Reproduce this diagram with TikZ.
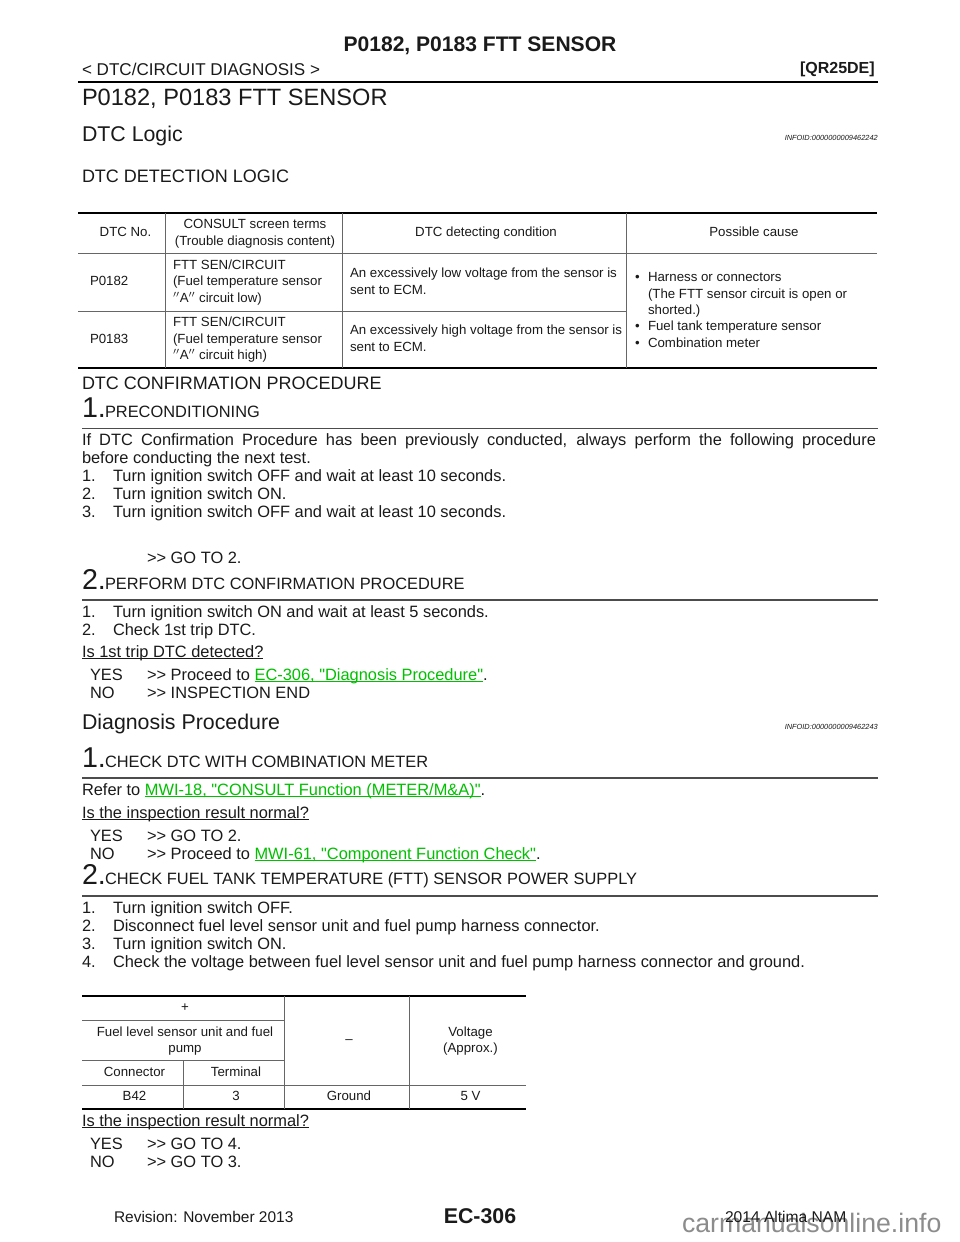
\documentclass[tikz,border=0pt]{standalone}
\usepackage{fontspec}
\setmainfont{Liberation Sans}[Ligatures=TeXOff]
\newcommand{\fs}[1]{\fontsize{#1}{#1}\selectfont}
\newsavebox{\ulbox}
\newcommand{\ulx}[1]{\sbox{\ulbox}{#1}\usebox{\ulbox}\llap{\rule[-1.6pt]{\wd\ulbox}{.7pt}}}
\definecolor{linkgreen}{HTML}{00C000}
\definecolor{wmgrey}{HTML}{8C8C8C}
\definecolor{textk}{HTML}{1A1A1A}
\tikzset{
 bl/.style={anchor=base west,inner sep=0pt,outer sep=0pt,text=textk},
 body/.style={bl,font=\fs{12.3}},
 bignum/.style={bl,font=\fs{21.5}},
 sect/.style={bl,font=\fs{12.3}},
 cell/.style={anchor=base,inner sep=0pt,outer sep=0pt,text=textk,font=\fs{9.95},align=center},
 cellw/.style={bl,font=\fs{9.95}},
 infoid/.style={anchor=base east,inner sep=0pt,font=\fs{5.55}\itshape,text=textk},
 heavy/.style={line width=1.5pt,black},
 thinrule/.style={line width=1pt,black!70},
 gridl/.style={line width=.6pt,black!60},
}
\begin{document}
\begin{tikzpicture}[x=.75pt,y=-.75pt]
\useasboundingbox (0,0) rectangle (960,1242);
\fill[white] (0,0) rectangle (960,1242);
% header
\node[anchor=base,inner sep=0pt,font=\fs{15.8}\bfseries,text=textk] (htitle) at (480,51) {P0182, P0183 FTT SENSOR};
\node[bl,font=\fs{12.8}] (hleft) at (82,75) {< DTC/CIRCUIT DIAGNOSIS >};
\node[anchor=base east,inner sep=0pt,font=\fs{12}\bfseries,text=textk] (hright) at (875,73) {[QR25DE]};
\draw[line width=2pt] (78,82) -- (878,82);
\node[bl,font=\fs{17.7}] (title) at (82,105) {P0182, P0183 FTT SENSOR};
\node[bl,font=\fs{16}] (h2a) at (82,141) {DTC Logic};
\node[infoid] (info1) at (878,140) {INFOID:0000000009462242};
\node[bl,font=\fs{13.5}] (h3a) at (82,182) {DTC DETECTION LOGIC};
% table 1
\draw[heavy] (78,213) -- (877,213);
\draw[heavy] (78,368) -- (877,368);
\draw[gridl] (78,253) -- (877,253);
\draw[gridl] (78,311) -- (626,311);
\foreach \x in {165,342,626} \draw[gridl] (\x,213) -- (\x,368);
\node[cell] (c11) at (125.5,236) {DTC No.};
\node[cell] (c12) at (255,228) {CONSULT screen terms};
\node[cell] (c12b) at (255,245) {(Trouble diagnosis content)};
\node[cell] (c13) at (486,236) {DTC detecting condition};
\node[cell] (c14) at (754,236) {Possible cause};
\node[cellw] (r1a) at (90,285) {P0182};
\node[cellw] (r1b1) at (173,269) {FTT SEN/CIRCUIT};
\node[cellw] (r1b2) at (173,285) {(Fuel temperature sensor};
\node[cellw] (r1b3) at (173,302) {$^{\prime\prime}$A$^{\prime\prime}$ circuit low)};
\node[cellw] (r1c1) at (350,277) {An excessively low voltage from the sensor is};
\node[cellw] (r1c2) at (350,294) {sent to ECM.};
\node[cellw] (r2a) at (90,343) {P0183};
\node[cellw] (r2b1) at (173,326) {FTT SEN/CIRCUIT};
\node[cellw] (r2b2) at (173,343) {(Fuel temperature sensor};
\node[cellw] (r2b3) at (173,359) {$^{\prime\prime}$A$^{\prime\prime}$ circuit high)};
\node[cellw] (r2c1) at (350,334) {An excessively high voltage from the sensor is};
\node[cellw] (r2c2) at (350,351) {sent to ECM.};
\node[cellw] (b1) at (635,281) {•};
\node[cellw] (p1) at (648,281) {Harness or connectors};
\node[cellw] (p2) at (648,298) {(The FTT sensor circuit is open or};
\node[cellw] (p3) at (648,314) {shorted.)};
\node[cellw] (b2) at (635,330) {•};
\node[cellw] (p4) at (648,330) {Fuel tank temperature sensor};
\node[cellw] (b3) at (635,347) {•};
\node[cellw] (p5) at (648,347) {Combination meter};
% confirmation
\node[bl,font=\fs{13.5}] (h3b) at (82,389) {DTC CONFIRMATION PROCEDURE};
\node[bignum] (n1) at (82,417) {1.};
\node[sect] (s1) at (105,417) {PRECONDITIONING};
\draw[thinrule] (82,428.5) -- (878,428.5);
\node[body] (para1) at (82,445) {\makebox[595.5pt][s]{If DTC Confirmation Procedure has been previously conducted, always perform the following procedure}};
\node[body] (para2) at (82,463) {before conducting the next test.};
\node[body] (l1a) at (82,481) {1.};
\node[body] (l1b) at (113,481) {Turn ignition switch OFF and wait at least 10 seconds.};
\node[body] (l2a) at (82,499) {2.};
\node[body] (l2b) at (113,499) {Turn ignition switch ON.};
\node[body] (l3a) at (82,517) {3.};
\node[body] (l3b) at (113,517) {Turn ignition switch OFF and wait at least 10 seconds.};
\node[body] (go2) at (147,563) {>> GO TO 2.};
\node[bignum] (n2) at (82,589) {2.};
\node[sect] (s2) at (105,589) {PERFORM DTC CONFIRMATION PROCEDURE};
\draw[thinrule] (82,600) -- (878,600);
\node[body] (m1a) at (82,617) {1.};
\node[body] (m1b) at (113,617) {Turn ignition switch ON and wait at least 5 seconds.};
\node[body] (m2a) at (82,635) {2.};
\node[body] (m2b) at (113,635) {Check 1st trip DTC.};
\node[body] (q1) at (82,657) {\ulx{Is 1st trip DTC detected?}};
\node[body] (y1) at (90,680) {YES};
\node[body] (y1b) at (147,680) {>> Proceed to \textcolor{linkgreen}{\ulx{EC-306, "Diagnosis Procedure"}}.};
\node[body] (n1x) at (90,698) {NO};
\node[body] (n1b) at (147,698) {>> INSPECTION END};
% diagnosis
\node[bl,font=\fs{16}] (h2b) at (82,729) {Diagnosis Procedure};
\node[infoid] (info2) at (878,729) {INFOID:0000000009462243};
\node[bignum] (d1) at (82,767) {1.};
\node[sect] (ds1) at (105,767) {CHECK DTC WITH COMBINATION METER};
\draw[thinrule] (82,778) -- (878,778);
\node[body] (ref) at (82,795) {Refer to \textcolor{linkgreen}{\ulx{MWI-18, "CONSULT Function (METER/M\&A)"}}.};
\node[body] (q2) at (82,818) {\ulx{Is the inspection result normal?}};
\node[body] (y2) at (90,841) {YES};
\node[body] (y2b) at (147,841) {>> GO TO 2.};
\node[body] (n2x) at (90,859) {NO};
\node[body] (n2b) at (147,859) {>> Proceed to \textcolor{linkgreen}{\ulx{MWI-61, "Component Function Check"}}.};
\node[bignum] (d2) at (82,884) {2.};
\node[sect] (ds2) at (105,884) {CHECK FUEL TANK TEMPERATURE (FTT) SENSOR POWER SUPPLY};
\draw[thinrule] (82,896) -- (878,896);
\node[body] (k1a) at (82,913) {1.};
\node[body] (k1b) at (113,913) {Turn ignition switch OFF.};
\node[body] (k2a) at (82,931) {2.};
\node[body] (k2b) at (113,931) {Disconnect fuel level sensor unit and fuel pump harness connector.};
\node[body] (k3a) at (82,949) {3.};
\node[body] (k3b) at (113,949) {Turn ignition switch ON.};
\node[body] (k4a) at (82,967) {4.};
\node[body] (k4b) at (113,967) {Check the voltage between fuel level sensor unit and fuel pump harness connector and ground.};
% table 2
\draw[heavy] (82,996) -- (526,996);
\draw[heavy] (82,1109) -- (526,1109);
\draw[gridl] (82,1020) -- (284,1020);
\draw[gridl] (82,1060) -- (284,1060);
\draw[gridl] (82,1085) -- (526,1085);
\draw[gridl] (183,1060) -- (183,1109);
\draw[gridl] (284,996) -- (284,1109);
\draw[gridl] (409,996) -- (409,1109);
\node[cell] (t1) at (185,1011) {+};
\node[cell] (t2) at (185,1036) {Fuel level sensor unit and fuel};
\node[cell] (t2b) at (185,1052) {pump};
\node[cell] (t3) at (134.5,1076) {Connector};
\node[cell] (t4) at (236,1076) {Terminal};
\node[cell] (t5) at (349,1043) {–};
\node[cell] (t6) at (470.5,1036) {Voltage};
\node[cell] (t6b) at (470.5,1052) {(Approx.)};
\node[cell] (t7) at (134.5,1100) {B42};
\node[cell] (t8) at (236,1100) {3};
\node[cell] (t9) at (349,1100) {Ground};
\node[cell] (t10) at (470.5,1100) {5 V};
\node[body] (q3) at (82,1126) {\ulx{Is the inspection result normal?}};
\node[body] (y3) at (90,1149) {YES};
\node[body] (y3b) at (147,1149) {>> GO TO 4.};
\node[body] (n3) at (90,1167) {NO};
\node[body] (n3b) at (147,1167) {>> GO TO 3.};
% footer
\node[bl,font=\fs{11.6}] (rev) at (114,1222) {Revision: November 2013};
\node[anchor=base,inner sep=0pt,font=\fs{16}\bfseries,text=textk] (page) at (480,1223) {EC-306};
\node[bl,font=\fs{20},text=wmgrey] (wm) at (682,1232) {carmanualsonline.info};
\node[bl,font=\fs{11.7}] (model) at (725,1222) {2014 Altima NAM};
\end{tikzpicture}
\end{document}
